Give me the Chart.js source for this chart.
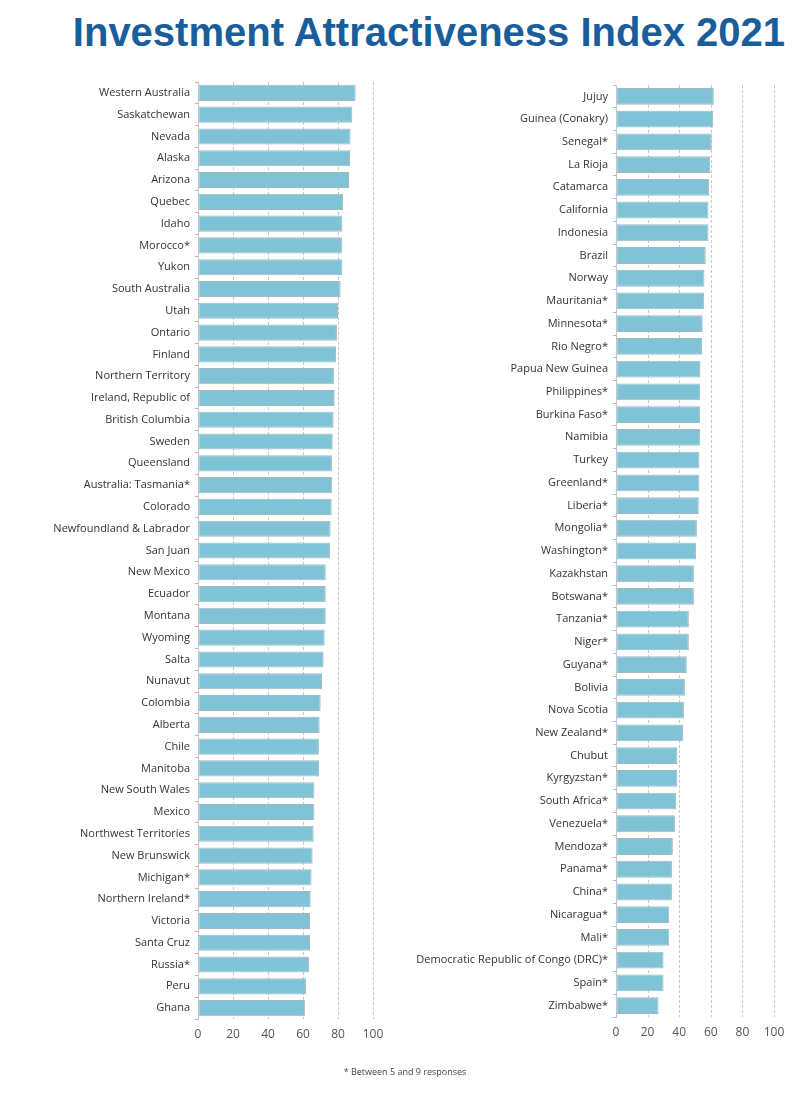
<!DOCTYPE html>
<html>
<head>
<meta charset="utf-8">
<script src="https://cdn.jsdelivr.net/npm/chart.js@4.4.1/dist/chart.umd.min.js"></script>
<style>
  html, body { margin: 0; padding: 0; background: #fff; }
  #wrap { position: relative; width: 800px; height: 1093px; overflow: hidden; }
  #title {
    position: absolute; left: 0; top: 10px; width: 800px; text-align: right;
    font-family: "Liberation Sans", Arial, sans-serif; font-weight: bold;
    font-size: 40px; color: #1a5d9b; white-space: nowrap; padding-right: 15px; box-sizing: border-box;
  }
  #note {
    position: absolute; left: 0; top: 1065px; width: 810px; text-align: center;
    font-family: "Open Sans", sans-serif; font-size: 9px; color: #444;
  }
  canvas { position: absolute; top: 0; }
  #left { left: 0; }
  #right { left: 400px; }
</style>
</head>
<body>
<div id="wrap">
  <div id="title">Investment Attractiveness Index 2021</div>
  <canvas id="left"></canvas>
  <canvas id="right"></canvas>
  <div id="note">* Between 5 and 9 responses</div>
</div>
<script>
// Left column: jurisdictions ranked 1-43
const leftNames = [
  'Western Australia', 'Saskatchewan', 'Nevada', 'Alaska', 'Arizona', 'Quebec', 'Idaho',
  'Morocco*', 'Yukon', 'South Australia', 'Utah', 'Ontario', 'Finland', 'Northern Territory',
  'Ireland, Republic of', 'British Columbia', 'Sweden', 'Queensland', 'Australia: Tasmania*',
  'Colorado', 'Newfoundland & Labrador', 'San Juan', 'New Mexico', 'Ecuador', 'Montana',
  'Wyoming', 'Salta', 'Nunavut', 'Colombia', 'Alberta', 'Chile', 'Manitoba', 'New South Wales',
  'Mexico', 'Northwest Territories', 'New Brunswick', 'Michigan*', 'Northern Ireland*',
  'Victoria', 'Santa Cruz', 'Russia*', 'Peru', 'Ghana'
];
const leftValues = [
  90.1, 88.2, 87.2, 86.9, 86.3, 82.9, 82.5, 82.5, 82.5, 81.5, 80.0, 79.4, 78.9, 77.9,
  78.1, 77.5, 77.0, 76.7, 76.7, 76.4, 75.8, 75.4, 73.0, 73.0, 73.0, 72.4, 71.8, 70.9,
  70.1, 69.5, 69.1, 69.2, 66.5, 66.5, 66.1, 65.5, 64.9, 64.4, 64.0, 64.0, 63.4, 61.7, 61.1
];

// Right column: jurisdictions ranked 44-84
const rightNames = [
  'Jujuy', 'Guinea (Conakry)', 'Senegal*', 'La Rioja', 'Catamarca', 'California', 'Indonesia',
  'Brazil', 'Norway', 'Mauritania*', 'Minnesota*', 'Rio Negro*', 'Papua New Guinea',
  'Philippines*', 'Burkina Faso*', 'Namibia', 'Turkey', 'Greenland*', 'Liberia*', 'Mongolia*',
  'Washington*', 'Kazakhstan', 'Botswana*', 'Tanzania*', 'Niger*', 'Guyana*', 'Bolivia',
  'Nova Scotia', 'New Zealand*', 'Chubut', 'Kyrgyzstan*', 'South Africa*', 'Venezuela*',
  'Mendoza*', 'Panama*', 'China*', 'Nicaragua*', 'Mali*',
  'Democratic Republic of Congo (DRC)*', 'Spain*', 'Zimbabwe*'
];
const rightValues = [
  61.9, 61.5, 60.6, 59.6, 58.9, 58.5, 58.5, 56.8, 56.0, 55.8, 54.9, 54.5, 53.5,
  53.3, 53.3, 53.3, 52.8, 52.8, 52.4, 51.2, 50.7, 49.3, 49.3, 46.1, 46.1, 44.8, 43.6,
  43.0, 42.5, 38.9, 38.9, 38.1, 37.3, 36.0, 35.4, 35.4, 33.7, 33.7, 30.1, 30.1, 26.9
];

const xTicks = [0, 20, 40, 60, 80, 100];

// dashed vertical grid lines, drawn under the bars
const dashGrid = {
  id: 'dashGrid',
  beforeDatasetsDraw(chart) {
    const { ctx, chartArea, scales } = chart;
    ctx.save();
    ctx.strokeStyle = '#c9c9c9';
    ctx.lineWidth = 1;
    ctx.setLineDash([3, 2]);
    xTicks.slice(1).forEach(v => {
      const x = Math.round(scales.x.getPixelForValue(v)) + 0.5;
      ctx.beginPath();
      ctx.moveTo(x, chartArea.top);
      ctx.lineTo(x, chartArea.bottom);
      ctx.stroke();
    });
    ctx.restore();
  },
};

function makeChart(id, names, values, axisLeft, padRight, padTop, padBottom) {
  const canvas = document.getElementById(id);
  canvas.width = 400;
  canvas.height = 1093;
  return new Chart(canvas.getContext('2d'), {
    type: 'bar',
    data: {
      labels: names,
      datasets: [{
        data: values,
        backgroundColor: '#80c3d7',
        borderColor: '#a7b8bd',
        borderWidth: 1,
        borderSkipped: false,
        categoryPercentage: 1,
        barPercentage: 0.74,
      }],
    },
    options: {
      indexAxis: 'y',
      responsive: false,
      animation: false,
      devicePixelRatio: 1,
      layout: { padding: { left: 0, right: padRight, top: padTop, bottom: padBottom } },
      plugins: {
        legend: { display: false },
        tooltip: { enabled: false },
      },
      scales: {
        x: {
          min: 0,
          max: 100,
          afterBuildTicks: (scale) => { scale.ticks = xTicks.map(v => ({ value: v })); },
          afterFit: (scale) => { scale.height = 28; },
          border: { display: false },
          grid: {
            drawOnChartArea: false,
            drawTicks: false,
          },
          ticks: {
            color: '#555',
            padding: 8,
            font: { family: 'Open Sans', size: 12 },
          },
        },
        y: {
          afterFit: (scale) => { scale.width = axisLeft; },
          border: { display: true, color: '#b9ccd4', width: 1 },
          grid: {
            offset: true,
            drawOnChartArea: false,
            drawTicks: true,
            tickLength: 3,
            color: '#d2a9a4',
          },
          ticks: {
            color: '#333',
            padding: 5,
            autoSkip: false,
            font: { family: 'Open Sans', size: 11 },
          },
        },
      },
    },
    plugins: [dashGrid],
  });
}

makeChart('left', leftNames, leftValues, 198, 27, 82, 46);
makeChart('right', rightNames, rightValues, 216, 26, 85, 48);
</script>
</body>
</html>
